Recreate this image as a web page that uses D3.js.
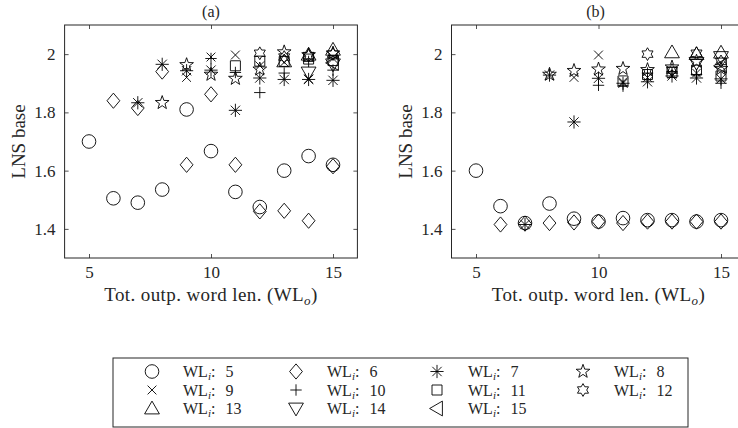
<!DOCTYPE html>
<html><head><meta charset="utf-8">
<script src="https://cdn.jsdelivr.net/npm/d3@7"></script>
<style>
body{margin:0;background:#fff}
svg{display:block}
text{font-family:"Liberation Serif","Times New Roman",serif;fill:#262626}
</style>
</head><body>
<svg id="c" width="738" height="428"></svg>
<script>
// ---------- data ----------
const wlIn = [5,6,7,8,9,10,11,12,13,14,15];          // input word lengths (series)
const xTicks = [5,10,15];
const yTicks = [1.4,1.6,1.8,2];
const yTickLabels = ["1.4","1.6","1.8","2"];
const panelTitles = ["(a)","(b)"];
const xLabelMain = "Tot. outp. word len. (WL";
const xLabelSub = "o";
const yLabel = "LNS base";
const markerNames = ["circle","diamond","asterisk","pentagram","x","plus","square","hexagram","triUp","triDown","triLeft"];

// Panel (a): each array starts at WL_o = WL_i and runs to 15
const a5  = [1.70,1.505,1.49,1.535,1.81,1.667,1.527,1.475,1.60,1.65,1.62];
const a6  = [1.84,1.815,1.94,1.62,1.862,1.62,1.46,1.462,1.428,1.615];
const a7  = [1.833,1.965,1.943,1.945,1.807,1.918,1.913,1.913,1.91];
const a8  = [1.833,1.963,1.93,1.916,1.948,2.007,1.997,2.003];
const a9  = [1.92,1.99,1.997,1.96,1.972,1.915,1.985];
const a10 = [1.985,1.937,1.868,1.935,1.975,1.945];
const a11 = [1.96,1.976,1.975,1.983,1.978];
const a12 = [2.003,1.99,1.995,2.0];
const a13 = [1.975,1.998,2.015];
const a14 = [1.937,1.965];
const a15 = [1.97];

// Panel (b)
const b5  = [1.60,1.478,1.42,1.487,1.435,1.425,1.437,1.43,1.43,1.425,1.43];
const b6  = [1.415,1.418,1.42,1.422,1.425,1.42,1.425,1.425,1.425,1.425];
const b7  = [1.415,1.928,1.767,1.917,1.90,1.905,1.925,1.918,1.915];
const b8  = [1.93,1.943,1.948,1.95,1.946,1.955,1.975,1.95];
const b9  = [1.92,1.997,1.905,1.92,1.93,1.935,1.96];
const b10 = [1.893,1.89,1.935,1.94,1.93,1.90];
const b11 = [1.908,1.93,1.937,1.945,1.925];
const b12 = [2.0,1.945,2.003,1.975];
const b13 = [2.006,2.0,2.005];
const b14 = [1.97,1.99];
const b15 = [1.96];

const seriesA = [a5,a6,a7,a8,a9,a10,a11,a12,a13,a14,a15];
const seriesB = [b5,b6,b7,b8,b9,b10,b11,b12,b13,b14,b15];

// ---------- marker shapes ----------
function starPath(n, R, r){
  let p=[];
  for(let i=0;i<2*n;i++){
    const a=-Math.PI/2 + i*Math.PI/n;
    const rr = i%2===0?R:r;
    p.push([rr*Math.cos(a), rr*Math.sin(a)]);
  }
  return "M"+p.map(q=>q[0].toFixed(2)+","+q[1].toFixed(2)).join("L")+"Z";
}
const shapes = {
  circle: r=>`M${r},0A${r},${r} 0 1 1 ${-r},0A${r},${r} 0 1 1 ${r},0Z`,
  diamond: ()=>"M0,-7.6L6.4,0L0,7.6L-6.4,0Z",
  asterisk: ()=>{const r=6.6,d=r*0.7071;return `M${-r},0H${r}M0,${-r}V${r}M${-d},${-d}L${d},${d}M${-d},${d}L${d},${-d}`;},
  pentagram: ()=>starPath(5,7.2,2.9),
  x: ()=>"M-4.4,-4.4L4.4,4.4M-4.4,4.4L4.4,-4.4",
  plus: ()=>"M-5.7,0H5.7M0,-5.7V5.7",
  square: ()=>"M-5,-5H5V5H-5Z",
  hexagram: ()=>starPath(6,6.4,3.7),
  triUp: ()=>"M0,-7.4L7.4,5.4L-7.4,5.4Z",
  triDown: ()=>"M0,7.4L7.4,-5.4L-7.4,-5.4Z",
  triLeft: ()=>"M-7.4,0L5.4,-7.4L5.4,7.4Z"
};
function markerPath(name){ return name==="circle"?shapes.circle(6.8):shapes[name](); }

// ---------- drawing ----------
const svg = d3.select("#c");
const yTop=25, yBot=258;
const y = d3.scaleLinear().domain([1.3,2.1]).range([yBot,yTop]);
const axisColor="#262626";

const panels = [
  {x0:64.6, x1:357.4, data:seriesA, title:panelTitles[0], titleDx:0, ylabX:25},
  {x0:451.5, x1:745.5, data:seriesB, title:panelTitles[1], titleDx:-3, ylabX:412}
];

panels.forEach(P=>{
  const x = d3.scaleLinear().domain([4,16]).range([P.x0,P.x1]);
  const g = svg.append("g");

  // axes
  const gb = g.append("g").attr("transform",`translate(0,${yBot})`)
    .call(d3.axisBottom(x).tickValues(xTicks).tickSize(-4).tickSizeOuter(0).tickPadding(8));
  const gt = g.append("g").attr("transform",`translate(0,${yTop})`)
    .call(d3.axisTop(x).tickValues(xTicks).tickSize(-4).tickSizeOuter(0).tickFormat(()=>""));
  const gl = g.append("g").attr("transform",`translate(${P.x0},0)`)
    .call(d3.axisLeft(y).tickValues(yTicks).tickFormat((d,i)=>yTickLabels[i]).tickSize(-4).tickSizeOuter(0).tickPadding(9));
  const gr = g.append("g").attr("transform",`translate(${P.x1},0)`)
    .call(d3.axisRight(y).tickValues(yTicks).tickSize(-4).tickSizeOuter(0).tickFormat(()=>""));
  [gb,gt,gl,gr].forEach(a=>{
    a.select(".domain").remove();
    a.selectAll(".tick line").attr("stroke",axisColor).attr("stroke-width",0.8);
    a.selectAll(".tick text").attr("fill",axisColor).style("font-size","17px")
      .style("font-family",'"Liberation Serif","Times New Roman",serif');
  });
  g.append("rect").attr("x",P.x0).attr("y",yTop).attr("width",P.x1-P.x0).attr("height",yBot-yTop)
    .attr("fill","none").attr("stroke",axisColor).attr("stroke-width",1);

  // markers
  P.data.forEach((vals,k)=>{
    const pts = vals.map((v,i)=>({xv:wlIn[k]+i, yv:v}));
    g.append("g").selectAll("path").data(pts).join("path")
      .attr("transform",d=>`translate(${x(d.xv)},${y(d.yv)})`)
      .attr("d",markerPath(markerNames[k]))
      .attr("fill","none").attr("stroke","#000").attr("stroke-width",0.9);
  });

  // title
  g.append("text").attr("x",x(10)+P.titleDx).attr("y",17).attr("text-anchor","middle")
    .style("font-size","16px").text(P.title);

  // x label
  const xl = g.append("text").attr("x",x(10)).attr("y",301).attr("text-anchor","middle")
    .style("font-size","19px").style("letter-spacing","0.4px");
  xl.append("tspan").text(xLabelMain);
  xl.append("tspan").attr("font-style","italic").style("font-size","13px").attr("dy",4).text(xLabelSub);
  xl.append("tspan").attr("dy",-4).text(")");

  // y label
  g.append("text").attr("transform",`translate(${P.ylabX},${(yTop+yBot)/2}) rotate(-90)`)
    .attr("text-anchor","middle").style("font-size","19px").text(yLabel);
});

// ---------- legend ----------
const L = svg.append("g");
L.append("rect").attr("x",113).attr("y",358).attr("width",575).attr("height",69)
  .attr("fill","#fff").attr("stroke",axisColor).attr("stroke-width",1);
const colMarkX=[152,296,437,583], rowY=[371.5,390,408.5];
wlIn.forEach((w,k)=>{
  const c=k%4, r=Math.floor(k/4);
  L.append("path").attr("transform",`translate(${colMarkX[c]},${rowY[r]})`)
    .attr("d",markerPath(markerNames[k])).attr("fill","none").attr("stroke","#000").attr("stroke-width",0.9);
  const t=L.append("text").attr("x",colMarkX[c]+31).attr("y",rowY[r]+5.5).style("font-size","16px");
  t.append("tspan").text("WL");
  t.append("tspan").attr("font-style","italic").style("font-size","11px").attr("dy",3).text("i");
  t.append("tspan").attr("dy",-3).text(":");
  t.append("tspan").attr("dx",10).text(String(w));
});
</script>
</body></html>
